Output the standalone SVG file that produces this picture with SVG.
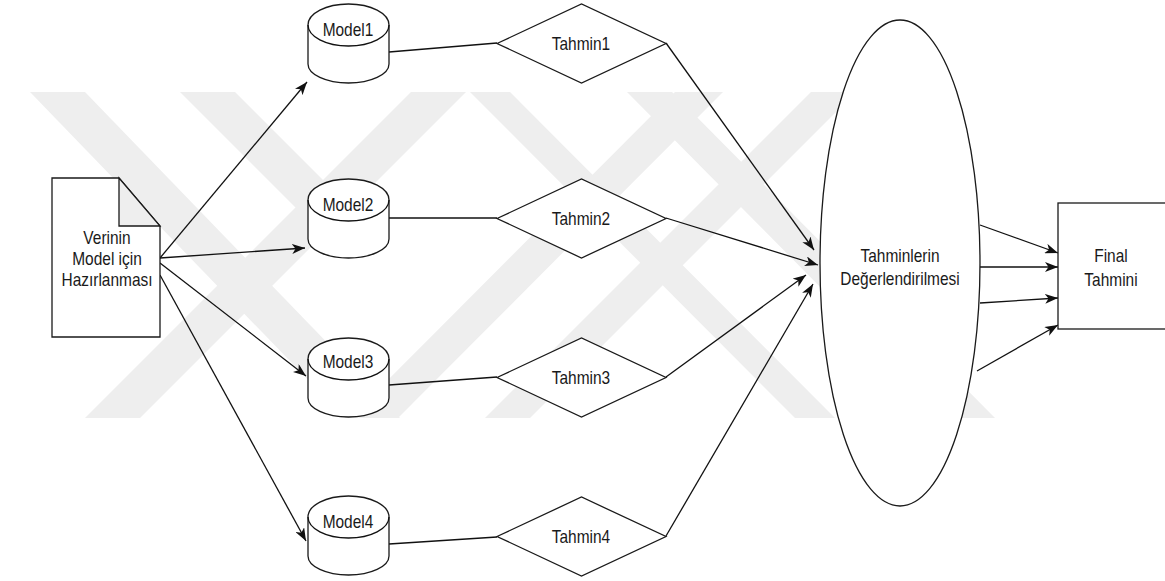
<svg xmlns="http://www.w3.org/2000/svg" width="1165" height="581" viewBox="0 0 1165 581">
  <style>
    .shape { fill: #ffffff; stroke: #1a1a1a; stroke-width: 1.3; }
    .fold { fill: #eeeeee; stroke: #1a1a1a; stroke-width: 1.3; }
    .edge { fill: none; stroke: #111111; stroke-width: 1.3; }
    .label { font-family: "Liberation Sans", Arial, sans-serif; font-size: 18px; fill: #1a1a1a; text-anchor: middle; }
    .mark { fill: #eeeeee; stroke: none; }
  </style>
  <defs>
    <marker id="arrow" viewBox="0 0 13 10" markerWidth="13" markerHeight="10" refX="13" refY="5" orient="auto" markerUnits="userSpaceOnUse">
      <path d="M0,0 L13,5 L0,10 L3.5,5 Z" fill="#111111"/>
    </marker>
  </defs>

  <rect width="1165" height="581" fill="#ffffff"/>

  <!-- faint background stripes -->
  <g id="background">
    <polygon class="mark" points="30,92 85,92 400,418 345,418"/>
    <polygon class="mark" points="180,92 235,92 375,232 320,232"/>
    <polygon class="mark" points="85,418 140,418 466,92 411,92"/>
    <polygon class="mark" points="350,418 398,418 723,92 675,92"/>
    <polygon class="mark" points="470,92 510,92 835,418 795,418"/>
    <polygon class="mark" points="485,418 530,418 856,92 811,92"/>
    <polygon class="mark" points="627,92 672,92 995,418 950,418"/>
  </g>

  <g id="connectors">
    <!-- data preparation to models -->
    <line class="edge" x1="160" y1="258" x2="307" y2="82" marker-end="url(#arrow)"/>
    <line class="edge" x1="160" y1="258" x2="305" y2="248" marker-end="url(#arrow)"/>
    <line class="edge" x1="160" y1="263" x2="306" y2="376" marker-end="url(#arrow)"/>
    <line class="edge" x1="160" y1="275" x2="306" y2="541" marker-end="url(#arrow)"/>
    <!-- models to predictions -->
    <line class="edge" x1="389" y1="52" x2="497" y2="43"/>
    <line class="edge" x1="389" y1="218" x2="497" y2="218"/>
    <line class="edge" x1="389" y1="385" x2="497" y2="377"/>
    <line class="edge" x1="389" y1="544" x2="497" y2="537"/>
    <!-- predictions to evaluation -->
    <line class="edge" x1="666" y1="43" x2="814" y2="250" marker-end="url(#arrow)"/>
    <line class="edge" x1="666" y1="218" x2="818" y2="265" marker-end="url(#arrow)"/>
    <line class="edge" x1="666" y1="377" x2="806" y2="275" marker-end="url(#arrow)"/>
    <line class="edge" x1="666" y1="536" x2="813" y2="284" marker-end="url(#arrow)"/>
    <!-- evaluation to final prediction -->
    <line class="edge" x1="980" y1="225" x2="1058" y2="253" marker-end="url(#arrow)"/>
    <line class="edge" x1="980" y1="267" x2="1058" y2="267" marker-end="url(#arrow)"/>
    <line class="edge" x1="980" y1="303" x2="1058" y2="298" marker-end="url(#arrow)"/>
    <line class="edge" x1="977" y1="371" x2="1058" y2="325" marker-end="url(#arrow)"/>
  </g>

  <g id="veri-hazirlama">
    <path class="shape" d="M52,178 H119 L160,226 V337 H52 Z"/>
    <path class="fold" d="M119,178 V226 H160 Z"/>
    <text class="label" transform="translate(107,244) scale(0.86,1)">Verinin</text>
    <text class="label" transform="translate(107,265) scale(0.86,1)">Model için</text>
    <text class="label" transform="translate(107,286) scale(0.86,1)">Hazırlanması</text>
  </g>

  <g id="model1">
    <path class="shape" d="M308,25 A40.5,21 0 0 1 389,25 V64 A40.5,19 0 0 1 308,64 Z"/>
    <path class="edge" d="M308,25 A40.5,21 0 0 0 389,25"/>
    <text class="label" transform="translate(348,35.5) scale(0.86,1)">Model1</text>
  </g>
  <g id="model2">
    <path class="shape" d="M308,200 A40.5,21 0 0 1 389,200 V239 A40.5,19 0 0 1 308,239 Z"/>
    <path class="edge" d="M308,200 A40.5,21 0 0 0 389,200"/>
    <text class="label" transform="translate(348,210.5) scale(0.86,1)">Model2</text>
  </g>
  <g id="model3">
    <path class="shape" d="M308,359 A40.5,21 0 0 1 389,359 V398 A40.5,19 0 0 1 308,398 Z"/>
    <path class="edge" d="M308,359 A40.5,21 0 0 0 389,359"/>
    <text class="label" transform="translate(348,368) scale(0.86,1)">Model3</text>
  </g>
  <g id="model4">
    <path class="shape" d="M308,517 A40.5,21 0 0 1 389,517 V556 A40.5,19 0 0 1 308,556 Z"/>
    <path class="edge" d="M308,517 A40.5,21 0 0 0 389,517"/>
    <text class="label" transform="translate(348,527.5) scale(0.86,1)">Model4</text>
  </g>

  <g id="tahmin1">
    <polygon class="shape" points="497,43.5 581.5,4 666,43.5 581.5,83"/>
    <text class="label" transform="translate(581,50) scale(0.86,1)">Tahmin1</text>
  </g>
  <g id="tahmin2">
    <polygon class="shape" points="497,218.5 581.5,179 666,218.5 581.5,258"/>
    <text class="label" transform="translate(581,225) scale(0.86,1)">Tahmin2</text>
  </g>
  <g id="tahmin3">
    <polygon class="shape" points="497,377.5 581.5,338 666,377.5 581.5,417"/>
    <text class="label" transform="translate(581,384) scale(0.86,1)">Tahmin3</text>
  </g>
  <g id="tahmin4">
    <polygon class="shape" points="497,536.5 581.5,497 666,536.5 581.5,576"/>
    <text class="label" transform="translate(581,543) scale(0.86,1)">Tahmin4</text>
  </g>

  <g id="degerlendirme">
    <ellipse class="shape" cx="900" cy="263" rx="80" ry="243"/>
    <text class="label" transform="translate(900,261.5) scale(0.86,1)">Tahminlerin</text>
    <text class="label" transform="translate(900,284.5) scale(0.86,1)">Değerlendirilmesi</text>
  </g>

  <g id="final-tahmin">
    <rect class="shape" x="1058" y="203" width="120" height="126"/>
    <text class="label" transform="translate(1111,261.5) scale(0.86,1)">Final</text>
    <text class="label" transform="translate(1111,285.5) scale(0.86,1)">Tahmini</text>
  </g>
</svg>
